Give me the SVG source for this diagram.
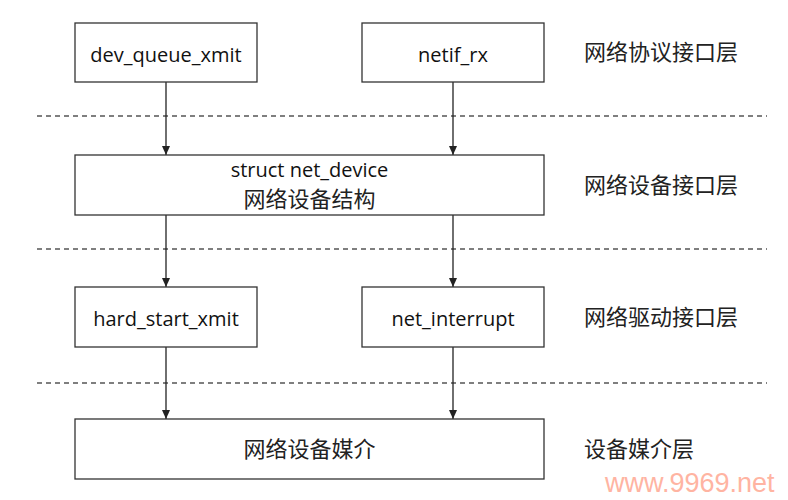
<svg xmlns="http://www.w3.org/2000/svg" width="788" height="500" viewBox="0 0 788 500">
<style>
.box{fill:#fff;stroke:#333;stroke-width:1.3}
.lbl{font-family:"Open Sans","Noto Sans CJK SC",sans-serif;font-size:20px;fill:#111;text-anchor:middle}
.cjk{font-family:"Noto Sans CJK SC",sans-serif;font-size:22px;fill:#222}
.mid{text-anchor:middle}
.dash{stroke:#555;stroke-width:1.3;stroke-dasharray:5 4;fill:none}
.conn{stroke:#222;stroke-width:1.3;fill:none;marker-end:url(#ah)}
</style>
<defs>
<marker id="ah" markerUnits="userSpaceOnUse" markerWidth="9" markerHeight="9" viewBox="0 0 9 9" refX="9" refY="4.5" orient="auto">
<path d="M0,0.5 L9,4.5 L0,8.5 Z" fill="#222"/>
</marker>
</defs>
<rect width="788" height="500" fill="#fff"/>
<g id="separators">
<line class="dash" x1="37" y1="116" x2="767" y2="116"/>
<line class="dash" x1="37" y1="249" x2="767" y2="249"/>
<line class="dash" x1="37" y1="383" x2="767" y2="383"/>
</g>
<g id="connectors">
<line class="conn" x1="166" y1="82" x2="166" y2="155"/>
<line class="conn" x1="453" y1="82" x2="453" y2="155"/>
<line class="conn" x1="166" y1="215" x2="166" y2="287"/>
<line class="conn" x1="453" y1="215" x2="453" y2="287"/>
<line class="conn" x1="166" y1="347" x2="166" y2="419"/>
<line class="conn" x1="453" y1="347" x2="453" y2="419"/>
</g>
<g id="dev_queue_xmit">
<rect class="box" x="75" y="23" width="182" height="59"/>
<text class="lbl" x="166" y="62">dev_queue_xmit</text>
</g>
<g id="netif_rx">
<rect class="box" x="362" y="23" width="182" height="59"/>
<text class="lbl" x="453" y="62">netif_rx</text>
</g>
<g id="net_device">
<rect class="box" x="75" y="155" width="469" height="60"/>
<text class="lbl" x="309.5" y="177">struct net_device</text>
<text class="cjk mid" x="309.5" y="207" fill="#111">网络设备结构</text>
</g>
<g id="hard_start_xmit">
<rect class="box" x="75" y="287" width="182" height="60"/>
<text class="lbl" x="166" y="326">hard_start_xmit</text>
</g>
<g id="net_interrupt">
<rect class="box" x="362" y="287" width="182" height="60"/>
<text class="lbl" x="453" y="326">net_interrupt</text>
</g>
<g id="media">
<rect class="box" x="75" y="419" width="469" height="60"/>
<text class="cjk mid" x="309.5" y="457">网络设备媒介</text>
</g>
<g id="layer-labels">
<text class="cjk" x="584" y="60">网络协议接口层</text>
<text class="cjk" x="584" y="193">网络设备接口层</text>
<text class="cjk" x="584" y="325">网络驱动接口层</text>
<text class="cjk" x="584" y="457">设备媒介层</text>
</g>
<text x="605" y="492" font-family="Liberation Sans, Arial, sans-serif" font-size="27" fill="#ffb4a2">www.9969.net</text>
</svg>
